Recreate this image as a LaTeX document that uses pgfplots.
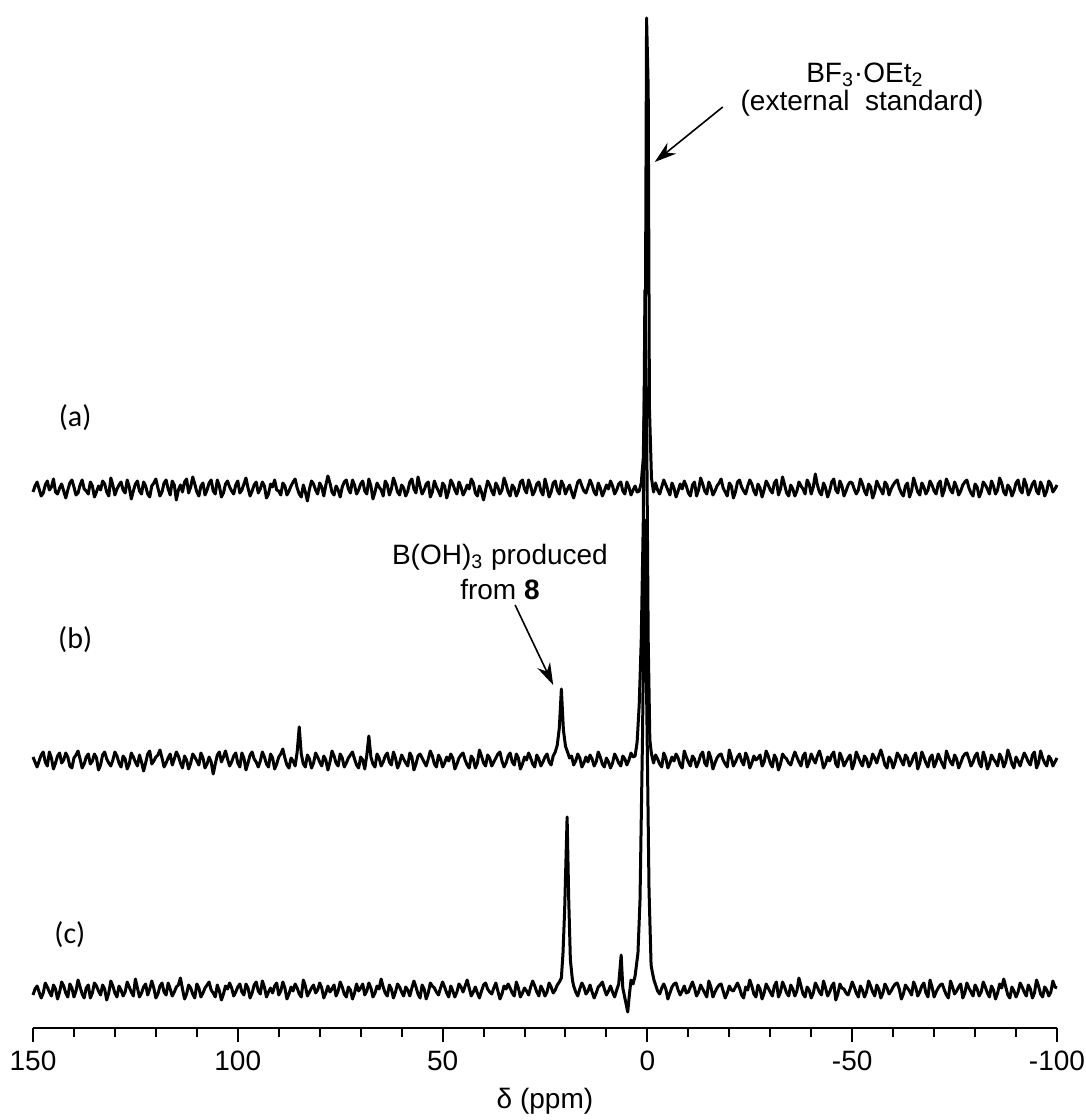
\documentclass[border=0pt]{standalone}
\usepackage{fontspec}
\setmainfont{Liberation Sans}
\newfontfamily\labfont{Carlito}
\usepackage{pgfplots}
\usepackage{pgfplotstable}
\pgfplotsset{compat=1.18}
\usetikzlibrary{arrows.meta}

% spectrum (a): offsets from its baseline (units: 1 = 1 px of the reference)
\pgfplotstableread[row sep=\\]{
x y\\
150 -4\\149.5 2\\149 6\\148.5 -1\\148 -8\\147.5 -5\\147 3\\146.5 7\\146 -2\\145.5 1\\145 9\\144.5 -4\\144 -6\\143.5 0\\143 4\\142.5 -3\\142 -10\\141.5 -2\\141 5\\140.5 8\\
140 1\\139.5 -7\\139 -5\\138.5 3\\138 8\\137.5 -1\\137 -3\\136.5 -6\\136 6\\135.5 2\\135 -9\\134.5 -4\\134 2\\133.5 -2\\133 7\\132.5 4\\132 -4\\131.5 -8\\131 10\\130.5 3\\
130 -7\\129.5 -1\\129 3\\128.5 6\\128 -2\\127.5 -5\\127 8\\126.5 1\\126 -11\\125.5 -3\\125 4\\124.5 7\\124 -3\\123.5 -6\\123 6\\122.5 2\\122 -6\\121.5 -9\\121 2\\120.5 5\\
120 9\\119.5 0\\119 -8\\118.5 -4\\118 5\\117.5 8\\117 -1\\116.5 -7\\116 7\\115.5 3\\115 -12\\114.5 -2\\114 3\\113.5 -4\\113 6\\112.5 9\\112 -5\\111.5 1\\111 11\\110.5 4\\
110 -4\\109.5 -8\\109 2\\108.5 5\\108 -7\\107.5 -2\\107 5\\106.5 8\\106 -3\\105.5 -6\\105 8\\104.5 2\\104 -9\\103.5 -5\\103 4\\102.5 7\\102 1\\101.5 -3\\101 -6\\100.5 3\\
100 7\\99.5 -5\\99 -2\\98.5 4\\98 10\\97.5 0\\97 -8\\96.5 -3\\96 3\\95.5 6\\95 -5\\94.5 -1\\94 6\\93.5 2\\93 -10\\92.5 -6\\92 4\\91.5 1\\91 8\\90.5 -2\\
90 -3\\89.5 -7\\89 5\\88.5 2\\88 -7\\87.5 -3\\87 2\\86.5 6\\86 9\\85.5 0\\85 -6\\84.5 -9\\84 3\\83.5 -4\\83 -13\\82.5 -1\\82 7\\81.5 4\\81 -2\\80.5 -6\\
80 5\\79.5 1\\79 -8\\78.5 3\\78 12\\77.5 5\\77 -4\\76.5 -7\\76 2\\75.5 -2\\75 -9\\74.5 1\\74 6\\73.5 8\\73 -1\\72.5 -5\\72 8\\71.5 3\\71 -6\\70.5 -2\\
70 4\\69.5 7\\69 -3\\68.5 -6\\68 9\\67.5 2\\67 -11\\66.5 -4\\66 5\\65.5 1\\65 -2\\64.5 -8\\64 7\\63.5 3\\63 -7\\62.5 -1\\62 10\\61.5 4\\61 -4\\60.5 -7\\
60 3\\59.5 0\\59 -8\\58.5 -3\\58 6\\57.5 9\\57 -1\\56.5 -5\\56 11\\55.5 2\\55 -6\\54.5 -2\\54 4\\53.5 6\\53 -9\\52.5 -4\\52 7\\51.5 1\\51 -3\\50.5 -8\\
50 5\\49.5 2\\49 -10\\48.5 -3\\48 8\\47.5 4\\47 -2\\46.5 -6\\46 6\\45.5 1\\45 -7\\44.5 -3\\44 3\\43.5 -1\\43 9\\42.5 5\\42 -5\\41.5 -8\\41 2\\40.5 -4\\
40 -12\\39.5 -2\\39 7\\38.5 3\\38 -3\\37.5 -7\\37 5\\36.5 1\\36 -6\\35.5 -2\\35 10\\34.5 4\\34 -4\\33.5 -8\\33 3\\32.5 0\\32 -8\\31.5 -3\\31 6\\30.5 8\\
30 -1\\29.5 -5\\29 8\\28.5 2\\28 -7\\27.5 -3\\27 4\\26.5 6\\26 -3\\25.5 -7\\25 9\\24.5 1\\24 -9\\23.5 -4\\23 5\\22.5 7\\22 -2\\21.5 -6\\21 7\\20.5 3\\
20 -6\\19.5 -1\\19 3\\18.5 -4\\18 -10\\17.5 -2\\17 6\\16.5 8\\16 2\\15.5 -3\\15 -5\\14.5 1\\14 8\\13.5 3\\13 -4\\12.5 -7\\12 5\\11.5 0\\11 -8\\10.5 -3\\
10 3\\9.5 -1\\9 7\\8.5 2\\8 -6\\7.5 -2\\7 4\\6.5 6\\6 -3\\5.5 -6\\5 6\\4.5 1\\4 -7\\3.5 -2\\3 2\\2.5 -4\\2 -3\\1.5 5\\1 30\\0.5 150\\
0.2 470\\-0.2 400\\-0.5 80\\-1 10\\-1.5 -4\\-2 5\\-2.5 -2\\
-3 -6\\-3.5 1\\-4 8\\-4.5 3\\-5 -2\\-5.5 -7\\-6 5\\-6.5 0\\-7 -9\\-7.5 -3\\-8 4\\-8.5 -1\\-9 7\\-9.5 2\\-10 -5\\-10.5 -8\\-11 3\\-11.5 6\\-12 -8\\-12.5 -2\\
-13 10\\-13.5 4\\-14 -3\\-14.5 -6\\-15 6\\-15.5 1\\-16 -7\\-16.5 -3\\-17 2\\-17.5 5\\-18 9\\-18.5 0\\-19 -4\\-19.5 -8\\-20 5\\-20.5 2\\-21 -10\\-21.5 -4\\-22 6\\-22.5 8\\
-23 1\\-23.5 -3\\-24 -6\\-24.5 2\\-25 8\\-25.5 4\\-26 -3\\-26.5 -7\\-27 4\\-27.5 0\\-28 -9\\-28.5 -2\\-29 7\\-29.5 3\\-30 -2\\-30.5 -5\\-31 5\\-31.5 8\\-32 -7\\-32.5 -1\\
-33 11\\-33.5 3\\-34 -5\\-34.5 -8\\-35 3\\-35.5 -1\\-36 -8\\-36.5 -3\\-37 6\\-37.5 2\\-38 -1\\-38.5 -6\\-39 8\\-39.5 4\\-40 -6\\-40.5 1\\-41 14\\-41.5 3\\-42 -4\\-42.5 -7\\
-43 5\\-43.5 0\\-44 -9\\-44.5 -3\\-45 6\\-45.5 9\\-46 -2\\-46.5 -5\\-47 7\\-47.5 2\\-48 -8\\-48.5 -3\\-49 3\\-49.5 6\\-50 5\\-50.5 -1\\-51 -6\\-51.5 -2\\-52 9\\-52.5 4\\
-53 -3\\-53.5 -7\\-54 4\\-54.5 1\\-55 -10\\-55.5 -4\\-56 7\\-56.5 2\\-57 -2\\-57.5 -6\\-58 6\\-58.5 3\\-59 -7\\-59.5 -1\\-60 3\\-60.5 6\\-61 8\\-61.5 0\\-62 -5\\-62.5 -8\\
-63 2\\-63.5 5\\-64 -9\\-64.5 -3\\-65 10\\-65.5 3\\-66 -4\\-66.5 -7\\-67 5\\-67.5 1\\-68 -6\\-68.5 -2\\-69 7\\-69.5 3\\-70 -3\\-70.5 -6\\-71 4\\-71.5 7\\-72 -8\\-72.5 -2\\
-73 9\\-73.5 4\\-74 -2\\-74.5 -5\\-75 6\\-75.5 1\\-76 -7\\-76.5 -3\\-77 3\\-77.5 6\\-78 8\\-78.5 0\\-79 -5\\-79.5 -8\\-80 4\\-80.5 1\\-81 -9\\-81.5 -4\\-82 6\\-82.5 3\\
-83 -1\\-83.5 -6\\-84 7\\-84.5 2\\-85 -6\\-85.5 -2\\-86 10\\-86.5 5\\-87 -4\\-87.5 -7\\-88 3\\-88.5 0\\-89 -8\\-89.5 -3\\-90 5\\-90.5 8\\-91 -2\\-91.5 -5\\-92 9\\-92.5 3\\
-93 -7\\-93.5 -2\\-94 4\\-94.5 7\\-95 -3\\-95.5 -6\\-96 6\\-96.5 1\\-97 -8\\-97.5 -3\\-98 7\\-98.5 4\\-99 -4\\-99.5 -1\\-100 3\\
}\tabA

% spectrum (b)
\pgfplotstableread[row sep=\\]{
x y\\
150 3\\149.5 -2\\149 -7\\148.5 -1\\148 5\\147.5 8\\147 -2\\146.5 -6\\146 8\\145.5 2\\145 -9\\144.5 -3\\144 4\\143.5 7\\143 -3\\142.5 0\\142 7\\141.5 3\\141 -6\\140.5 -8\\
140 2\\139.5 5\\139 9\\138.5 1\\138 -8\\137.5 -4\\137 3\\136.5 6\\136 -4\\135.5 -1\\135 6\\134.5 2\\134 -10\\133.5 -5\\133 5\\132.5 8\\132 1\\131.5 -3\\131 -6\\130.5 0\\
130 8\\129.5 4\\129 -3\\128.5 -7\\128 4\\127.5 1\\127 -9\\126.5 -4\\126 7\\125.5 3\\125 -2\\124.5 -6\\124 5\\123.5 -2\\123 -11\\122.5 -3\\122 6\\121.5 9\\121 -4\\120.5 -1\\
120 3\\119.5 5\\119 10\\118.5 2\\118 -7\\117.5 -3\\117 2\\116.5 6\\116 -5\\115.5 1\\115 8\\114.5 4\\114 -3\\113.5 -8\\113 4\\112.5 0\\112 -9\\111.5 -3\\111 6\\110.5 3\\
110 -1\\109.5 -5\\109 7\\108.5 2\\108 -8\\107.5 -4\\107 3\\106.5 -2\\106 -14\\105.5 -4\\105 5\\104.5 8\\104 -2\\103.5 3\\103 9\\102.5 1\\102 -6\\101.5 -2\\101 4\\100.5 7\\
100 -3\\99.5 -7\\99 7\\98.5 2\\98 -10\\97.5 -3\\97 5\\96.5 8\\96 1\\95.5 -2\\95 -7\\94.5 -1\\94 8\\93.5 3\\93 -4\\92.5 -7\\92 6\\91.5 2\\91 -9\\90.5 -4\\
90 3\\89.5 6\\89 11\\88.5 2\\88 -5\\87.5 -8\\87 2\\86.5 -1\\86 -6\\85.5 8\\85 33\\84.5 6\\84 -4\\83.5 -7\\83 5\\82.5 1\\82 -8\\81.5 -3\\81 7\\80.5 3\\
80 -2\\79.5 -6\\79 4\\78.5 0\\78 -10\\77.5 -2\\77 9\\76.5 4\\76 -3\\75.5 -6\\75 6\\74.5 2\\74 -7\\73.5 -3\\73 2\\72.5 5\\72 8\\71.5 1\\71 -5\\70.5 -8\\
70 3\\69.5 0\\69 -9\\68.5 5\\68 24\\67.5 3\\67 -4\\66.5 -7\\66 6\\65.5 2\\65 -6\\64.5 -2\\64 4\\63.5 7\\63 -2\\62.5 -5\\62 8\\61.5 2\\61 -8\\60.5 -3\\
60 5\\59.5 1\\59 -3\\58.5 -6\\58 7\\57.5 3\\57 -10\\56.5 -4\\56 4\\55.5 6\\55 2\\54.5 -2\\54 -6\\53.5 1\\53 9\\52.5 4\\52 -4\\51.5 -7\\51 5\\50.5 1\\
50 -7\\49.5 -3\\49 3\\48.5 -1\\48 6\\47.5 2\\47 -9\\46.5 -4\\46 2\\45.5 5\\45 7\\44.5 0\\44 -5\\43.5 -8\\43 4\\42.5 1\\42 -8\\41.5 -3\\41 10\\40.5 4\\
40 -3\\39.5 -6\\39 5\\38.5 2\\38 -6\\37.5 -2\\37 2\\36.5 6\\36 8\\35.5 -1\\35 -7\\34.5 -3\\34 4\\33.5 7\\33 -2\\32.5 -5\\32 6\\31.5 2\\31 -9\\30.5 -4\\
30 3\\29.5 0\\29 7\\28.5 2\\28 -4\\27.5 -7\\27 5\\26.5 1\\26 -6\\25.5 -2\\25 3\\24.5 6\\24 -2\\23.5 -5\\23 4\\22.5 8\\22 15\\21.5 32\\21 71\\20.5 30\\
20 14\\19.5 8\\19 2\\18.5 4\\18 -5\\17.5 -1\\17 6\\16.5 2\\16 -7\\15.5 -3\\15 3\\14.5 -2\\14 5\\13.5 1\\13 -6\\12.5 -2\\12 8\\11.5 3\\11 -4\\10.5 -7\\
10 2\\9.5 -2\\9 -8\\8.5 -3\\8 6\\7.5 2\\7 -3\\6.5 -6\\6 4\\5.5 1\\5 -5\\4.5 0\\4 7\\3.5 3\\3 4\\2.5 18\\2 55\\1.5 120\\1 240\\0.6 470\\
0.2 350\\-0.2 120\\-0.6 20\\-1 6\\-1.5 -3\\-2 5\\-2.5 1\\
-3 -4\\-3.5 -7\\-4 7\\-4.5 2\\-5 -8\\-5.5 -3\\-6 3\\-6.5 -1\\-7 6\\-7.5 2\\-8 -5\\-8.5 -8\\-9 9\\-9.5 3\\-10 -2\\-10.5 -6\\-11 4\\-11.5 1\\-12 -7\\-12.5 -2\\
-13 5\\-13.5 8\\-14 -3\\-14.5 -6\\-15 8\\-15.5 2\\-16 -9\\-16.5 -3\\-17 2\\-17.5 5\\-18 6\\-18.5 0\\-19 -4\\-19.5 -7\\-20 10\\-20.5 3\\-21 -6\\-21.5 -2\\-22 3\\-22.5 6\\
-23 -1\\-23.5 -5\\-24 7\\-24.5 2\\-25 -8\\-25.5 -3\\-26 4\\-26.5 0\\-27 2\\-27.5 5\\-28 -6\\-28.5 -2\\-29 9\\-29.5 4\\-30 -3\\-30.5 -7\\-31 5\\-31.5 1\\-32 -10\\-32.5 -4\\
-33 6\\-33.5 3\\-34 1\\-34.5 -3\\-35 -5\\-35.5 2\\-36 8\\-36.5 3\\-37 -2\\-37.5 -6\\-38 4\\-38.5 7\\-39 -7\\-39.5 -2\\-40 6\\-40.5 1\\-41 -3\\-41.5 4\\-42 9\\-42.5 2\\
-43 -8\\-43.5 -4\\-44 3\\-44.5 -1\\-45 5\\-45.5 8\\-46 -4\\-46.5 -7\\-47 7\\-47.5 2\\-48 -6\\-48.5 -2\\-49 2\\-49.5 5\\-50 -9\\-50.5 -3\\-51 8\\-51.5 3\\-52 -2\\-52.5 -6\\
-53 4\\-53.5 1\\-54 -7\\-54.5 -3\\-55 6\\-55.5 2\\-56 -3\\-56.5 4\\-57 10\\-57.5 3\\-58 -5\\-58.5 -8\\-59 3\\-59.5 0\\-60 -8\\-60.5 -2\\-61 7\\-61.5 4\\-62 -1\\-62.5 -5\\
-63 5\\-63.5 2\\-64 -6\\-64.5 -2\\-65 4\\-65.5 7\\-66 -9\\-66.5 -3\\-67 8\\-67.5 3\\-68 -3\\-68.5 -7\\-69 2\\-69.5 5\\-70 -7\\-70.5 -2\\-71 6\\-71.5 1\\-72 -4\\-72.5 -8\\
-73 9\\-73.5 3\\-74 -2\\-74.5 -5\\-75 5\\-75.5 1\\-76 -8\\-76.5 -3\\-77 3\\-77.5 6\\-78 7\\-78.5 1\\-79 -6\\-79.5 -2\\-80 4\\-80.5 7\\-81 -3\\-81.5 -7\\-82 8\\-82.5 2\\
-83 -9\\-83.5 -4\\-84 5\\-84.5 1\\-85 -2\\-85.5 -6\\-86 6\\-86.5 2\\-87 -7\\-87.5 -2\\-88 10\\-88.5 4\\-89 -4\\-89.5 -8\\-90 3\\-90.5 -1\\-91 -6\\-91.5 1\\-92 7\\-92.5 3\\
-93 -2\\-93.5 -5\\-94 5\\-94.5 8\\-95 -8\\-95.5 -3\\-96 9\\-96.5 2\\-97 -3\\-97.5 -6\\-98 4\\-98.5 1\\-99 -6\\-99.5 -2\\-100 2\\
}\tabB

% spectrum (c)
\pgfplotstableread[row sep=\\]{
x y\\
150 -5\\149.5 1\\149 4\\148.5 -2\\148 -8\\147.5 -3\\147 7\\146.5 3\\146 -2\\145.5 -6\\145 5\\144.5 1\\144 -9\\143.5 -2\\143 8\\142.5 4\\142 -3\\141.5 -7\\141 6\\140.5 2\\
140 -7\\139.5 -1\\139 10\\138.5 3\\138 -4\\137.5 -8\\137 2\\136.5 5\\136 -8\\135.5 -3\\135 7\\134.5 4\\134 -1\\133.5 -5\\133 5\\132.5 1\\132 -10\\131.5 -3\\131 9\\130.5 4\\
130 -3\\129.5 -7\\129 4\\128.5 0\\128 -6\\127.5 -2\\127 8\\126.5 3\\126 -2\\125.5 -6\\125 11\\124.5 2\\124 -7\\123.5 -3\\123 3\\122.5 6\\122 -5\\121.5 1\\121 9\\120.5 2\\
120 -8\\119.5 -4\\119 4\\118.5 7\\118 -2\\117.5 -5\\117 7\\116.5 1\\116 -6\\115.5 -2\\115 3\\114.5 5\\114 12\\113.5 1\\113 -9\\112.5 -4\\112 5\\111.5 2\\111 -4\\110.5 -8\\
110 6\\109.5 2\\109 -7\\108.5 -3\\108 2\\107.5 5\\107 8\\106.5 0\\106 -3\\105.5 -7\\105 5\\104.5 -1\\104 -10\\103.5 -4\\103 4\\102.5 1\\102 7\\101.5 2\\101 -6\\100.5 -2\\
100 3\\99.5 6\\99 -2\\98.5 -5\\98 6\\97.5 2\\97 -8\\96.5 -3\\96 5\\95.5 8\\95 -1\\94.5 -4\\94 9\\93.5 3\\93 -7\\92.5 -2\\92 2\\91.5 -3\\91 4\\90.5 7\\
90 -5\\89.5 -1\\89 8\\88.5 2\\88 -9\\87.5 -4\\87 3\\86.5 -1\\86 6\\85.5 2\\85 -4\\84.5 -7\\84 10\\83.5 4\\83 -6\\82.5 -2\\82 2\\81.5 5\\81 -3\\80.5 0\\
80 7\\79.5 2\\79 -8\\78.5 -3\\78 4\\77.5 -2\\77 1\\76.5 5\\76 -6\\75.5 -1\\75 8\\74.5 3\\74 -4\\73.5 -7\\73 3\\72.5 0\\72 -9\\71.5 -3\\71 6\\70.5 -1\\
70 2\\69.5 6\\69 -5\\68.5 -1\\68 7\\67.5 2\\67 -7\\66.5 -3\\66 4\\65.5 1\\65 11\\64.5 3\\64 -3\\63.5 -6\\63 5\\62.5 1\\62 -8\\61.5 -2\\61 6\\60.5 3\\
60 -2\\59.5 -6\\59 3\\58.5 0\\58 -6\\57.5 2\\57 9\\56.5 3\\56 -4\\55.5 -8\\55 5\\54.5 1\\54 -9\\53.5 -3\\53 7\\52.5 4\\52 2\\51.5 -2\\51 -5\\50.5 2\\
50 8\\49.5 3\\49 -3\\48.5 -7\\48 4\\47.5 -1\\47 -7\\46.5 -2\\46 6\\45.5 3\\45 -2\\44.5 4\\44 10\\43.5 2\\43 -6\\42.5 -2\\42 3\\41.5 -3\\41 -8\\40.5 -1\\
40 5\\39.5 7\\39 1\\38.5 -2\\38 -4\\37.5 2\\37 7\\36.5 -1\\36 -9\\35.5 -4\\35 4\\34.5 1\\34 6\\33.5 2\\33 -3\\32.5 -6\\32 8\\31.5 2\\31 -7\\30.5 -3\\
30 2\\29.5 -1\\29 -5\\28.5 3\\28 9\\27.5 4\\27 -2\\26.5 -6\\26 4\\25.5 0\\25 -6\\24.5 -2\\24 7\\23.5 3\\23 -3\\22.5 0\\22 5\\21.5 8\\21 12\\20.6 37\\
20.2 80\\19.6 173\\19.2 90\\18.8 30\\18.3 10\\18 4\\17.5 -2\\17 -6\\16.5 1\\16 7\\15.5 3\\15 -4\\14.5 -1\\14 5\\13.5 -2\\13 -8\\12.5 -3\\12 3\\11.5 5\\11 8\\
10.5 1\\10 -5\\9.5 -1\\9 4\\8.5 -2\\8 -7\\7.5 0\\7 6\\6.4 35\\6 2\\5.5 -8\\4.8 -22\\4.4 -5\\4 10\\3.5 6\\3 14\\2.3 37\\1.8 90\\1.2 250\\0.6 470\\
0.2 300\\-0.4 100\\-0.9 25\\-1.2 18\\-1.6 10\\-2 5\\-2.5 -1\\
-3 -4\\-3.5 2\\-4 6\\-4.5 1\\-5 -9\\-5.5 -3\\-6 3\\-6.5 6\\-7 7\\-7.5 0\\-8 -5\\-8.5 -1\\-9 4\\-9.5 -3\\-10 -2\\-10.5 3\\-11 8\\-11.5 2\\-12 -6\\-12.5 -2\\
-13 5\\-13.5 1\\-14 -3\\-14.5 -7\\-15 9\\-15.5 3\\-16 -7\\-16.5 -2\\-17 2\\-17.5 5\\-18 6\\-18.5 -1\\-19 -8\\-19.5 -3\\-20 4\\-20.5 0\\-21 -1\\-21.5 3\\-22 7\\-22.5 2\\
-23 -5\\-23.5 -8\\-24 3\\-24.5 0\\-25 10\\-25.5 4\\-26 -4\\-26.5 -7\\-27 5\\-27.5 1\\-28 -9\\-28.5 -3\\-29 6\\-29.5 2\\-30 -2\\-30.5 -6\\-31 4\\-31.5 8\\-32 -7\\-32.5 -2\\
-33 8\\-33.5 3\\-34 -3\\-34.5 -6\\-35 5\\-35.5 1\\-36 -6\\-36.5 -1\\-37 12\\-37.5 4\\-38 -4\\-38.5 -7\\-39 3\\-39.5 0\\-40 -8\\-40.5 -3\\-41 7\\-41.5 3\\-42 -2\\-42.5 -5\\
-43 9\\-43.5 2\\-44 -6\\-44.5 -2\\-45 4\\-45.5 7\\-46 -10\\-46.5 -4\\-47 6\\-47.5 2\\-48 1\\-48.5 -3\\-49 -5\\-49.5 1\\-50 8\\-50.5 3\\-51 -3\\-51.5 -7\\-52 4\\-52.5 0\\
-53 -7\\-53.5 -2\\-54 9\\-54.5 4\\-55 -2\\-55.5 -6\\-56 5\\-56.5 1\\-57 -8\\-57.5 -3\\-58 6\\-58.5 2\\-59 -4\\-59.5 -1\\-60 3\\-60.5 6\\-61 7\\-61.5 1\\-62 -9\\-62.5 -4\\
-63 5\\-63.5 2\\-64 -1\\-64.5 -5\\-65 8\\-65.5 3\\-66 -6\\-66.5 -2\\-67 4\\-67.5 7\\-68 -3\\-68.5 -7\\-69 10\\-69.5 3\\-70 -7\\-70.5 -2\\-71 2\\-71.5 5\\-72 6\\-72.5 0\\
-73 -5\\-73.5 -8\\-74 9\\-74.5 3\\-75 -4\\-75.5 -1\\-76 3\\-76.5 6\\-77 -8\\-77.5 -3\\-78 7\\-78.5 2\\-79 -2\\-79.5 -6\\-80 5\\-80.5 1\\-81 -6\\-81.5 -2\\-82 8\\-82.5 3\\
-83 -3\\-83.5 -7\\-84 4\\-84.5 0\\-85 -9\\-85.5 -3\\-86 6\\-86.5 2\\-87 11\\-87.5 3\\-88 -5\\-88.5 -8\\-89 3\\-89.5 -1\\-90 -7\\-90.5 -2\\-91 7\\-91.5 3\\-92 -2\\-92.5 -6\\
-93 5\\-93.5 1\\-94 -8\\-94.5 -3\\-95 10\\-95.5 4\\-96 -4\\-96.5 -7\\-97 3\\-97.5 0\\-98 -6\\-98.5 -2\\-99 9\\-99.5 3\\-100 2\\
}\tabC

\begin{document}
\begin{tikzpicture}
\useasboundingbox (-16.5pt,-46pt) rectangle (526.5pt,514pt);
\begin{axis}[
  at={(0,0)}, anchor=south west,
  scale only axis, width=512pt, height=506.5pt,
  x dir=reverse, xmin=-100, xmax=150, ymin=0, ymax=1013,
  axis x line*=bottom, axis y line=none,
  x axis line style={line width=1.2pt},
  xtick={-100,-50,0,50,100,150},
  minor xtick={-90,-80,-70,-60,-40,-30,-20,-10,10,20,30,40,60,70,80,90,110,120,130,140},
  tick align=outside,
  major tick length=7pt, minor tick length=4.5pt,
  every tick/.style={black, line width=1pt},
  /pgf/number format/assume math mode=true,
  xticklabel style={font=\fontsize{14}{16}\selectfont, yshift=-1pt},
  xlabel={δ (ppm)},
  xlabel style={font=\fontsize{14}{16}\selectfont, yshift=-2pt},
  clip=false,
]
\addplot[black, line width=1.5pt, line join=round] table[x=x, y expr=\thisrow{y}+540] {\tabA};
\addplot[black, line width=1.5pt, line join=round] table[x=x, y expr=\thisrow{y}+268] {\tabB};
\addplot[black, line width=1.5pt, line join=round] table[x=x, y expr=\thisrow{y}+38] {\tabC};

\node[font=\labfont\fontsize{15}{17}\selectfont] at (axis cs:139.7,610) {(a)};
\node[font=\labfont\fontsize{15}{17}\selectfont] at (axis cs:139.7,388) {(b)};
\node[font=\labfont\fontsize{15}{17}\selectfont] at (axis cs:141,93) {(c)};

\node[font=\fontsize{14}{16}\selectfont] at (axis cs:-53.1,953) {BF\textsubscript{3}·OEt\textsubscript{2}};
\node[font=\fontsize{14}{16}\selectfont] at (axis cs:-52.4,925) {(external\ \ standard)};
\draw[line width=0.8pt, -{Stealth[length=11pt,width=7pt]}] (axis cs:-18.4,921) -- (axis cs:-1.8,866);

\node[font=\fontsize{14}{16}\selectfont] at (axis cs:36,471) {B(OH)\textsubscript{3} produced};
\node[font=\fontsize{14}{16}\selectfont] at (axis cs:36,438) {from \textbf{8}};
\draw[line width=0.8pt, -{Stealth[length=11pt,width=7pt]}] (axis cs:32.3,423) -- (axis cs:23,343);
\end{axis}
\end{tikzpicture}
\end{document}
